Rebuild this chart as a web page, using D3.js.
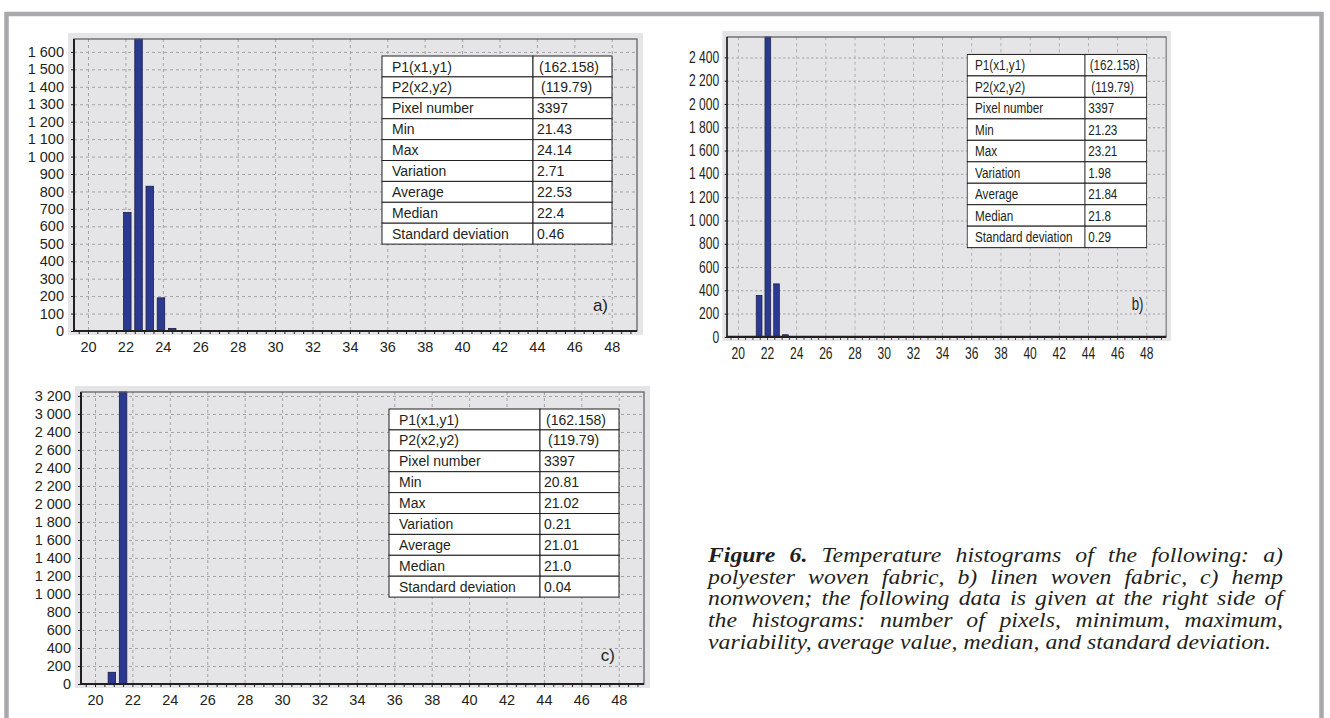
<!DOCTYPE html>
<html>
<head>
<meta charset="utf-8">
<script src="https://cdn.jsdelivr.net/npm/d3@7"></script>
<style>
    body { margin: 0; background: #fff; }
    svg { display: block; }
    .tick text { fill: #231f20; font-family: "Liberation Sans", Arial, sans-serif; }
</style>
</head>
<body>
<div id="svg-area"></div>
<script>
// ---- data ----
var xTicks = [20, 22, 24, 26, 28, 30, 32, 34, 36, 38, 40, 42, 44, 46, 48];

// panel a) polyester woven fabric
var aCenters = [22.1, 22.7, 23.3, 23.9, 24.5];
var aCounts = [680, 1690, 830, 190, 15];
var aYTicks = [0, 100, 200, 300, 400, 500, 600, 700, 800, 900, 1000, 1100, 1200, 1300, 1400, 1500, 1600];
var aStats = ["(162.158)", "(119.79)", "3397", "21.43", "24.14", "2.71", "22.53", "22.4", "0.46"];

// panel b) linen woven fabric
var bCenters = [21.45, 22.05, 22.65, 23.25];
var bCounts = [355, 2620, 455, 18];
var bYTicks = [0, 200, 400, 600, 800, 1000, 1200, 1400, 1600, 1800, 2000, 2200, 2400];
var bStats = ["(162.158)", "(119.79)", "3397", "21.23", "23.21", "1.98", "21.84", "21.8", "0.29"];

// panel c) hemp nonwoven
var cCenters = [20.9, 21.5];
var cCounts = [130, 3300];
var cYTicks = [0, 200, 400, 600, 800, 1000, 1200, 1400, 1600, 1800, 2000, 2200, 2400, 2600, 2800, 3000, 3200];
var cYLabels = ["0", "200", "400", "600", "800", "1 000", "1 200", "1 400", "1 600", "1 800",
    "2 000", "2 200", "2 400", "2 600", "2 400", "3 000", "3 200"];
var cStats = ["(162.158)", "(119.79)", "3397", "20.81", "21.02", "0.21", "21.01", "21.0", "0.04"];

var statLabels = ["P1(x1,y1)", "P2(x2,y2)", "Pixel number", "Min", "Max", "Variation", "Average", "Median", "Standard deviation"];

var captionLines = [
    "Figure 6. Temperature histograms of the following: a)",
    "polyester woven fabric, b) linen woven fabric, c) hemp",
    "nonwoven; the following data is given at the right side of",
    "the histograms: number of pixels, minimum, maximum,",
    "variability, average value, median, and standard deviation."
];

// ---- layout ----
var svgWidth = 1330;
var svgHeight = 718;
var plotW = 563;
var plotH = 292;
var xDomain = [19.25, 49.35];
var binWidth = 0.4;

var spaceFormat = d3.formatLocale({ decimal: ".", thousands: " ", grouping: [3], currency: ["", ""] }).format(",");

var svg = d3.select("#svg-area").append("svg")
    .attr("width", svgWidth)
    .attr("height", svgHeight);

// page frame
svg.append("path")
    .attr("d", "M6.5,718 V14 H1321.5 V718")
    .attr("fill", "none")
    .attr("stroke", "#a7a9ac")
    .attr("stroke-width", 4.5);

function drawPanel(opts) {
    var g = svg.append("g")
        .attr("transform", `translate(${opts.left}, ${opts.top}) scale(${opts.sx}, ${opts.sy})`);

    var x = d3.scaleLinear().domain(xDomain).range([0, plotW]);
    var y = d3.scaleLinear().domain([0, opts.yMax]).range([plotH, 0]).clamp(true);

    // grey background
    g.append("rect")
        .attr("x", -6).attr("y", -6)
        .attr("width", plotW + 12).attr("height", plotH + 10)
        .attr("fill", "#e5e5e7");

    // dashed grid
    g.append("g")
        .attr("class", "grid")
        .call(d3.axisLeft(y).tickValues(opts.yTicks).tickSize(-plotW).tickFormat(""));
    g.append("g")
        .attr("class", "grid")
        .call(d3.axisTop(x).tickValues(xTicks).tickSize(-plotH).tickFormat(""));
    g.selectAll(".grid .domain").remove();
    g.selectAll(".grid line")
        .attr("stroke", "#a3a3a5")
        .attr("stroke-dasharray", "3,3");

    // stats table
    var rowH = 20.9;
    var col1 = 151, col2 = 79;
    var table = g.append("g").attr("transform", "translate(308, 17)");
    var rows = table.selectAll("g.row")
        .data(statLabels)
        .enter()
        .append("g")
        .attr("class", "row")
        .attr("transform", (d, i) => `translate(0, ${i * rowH})`);
    rows.append("rect")
        .attr("width", col1).attr("height", rowH)
        .attr("fill", "#fff").attr("stroke", "#231f20").attr("stroke-width", 1);
    rows.append("rect")
        .attr("x", col1)
        .attr("width", col2).attr("height", rowH)
        .attr("fill", "#fff").attr("stroke", "#231f20").attr("stroke-width", 1);
    rows.append("text")
        .attr("x", 10).attr("y", 15.5)
        .attr("fill", "#231f20")
        .attr("font-family", "Liberation Sans, Arial, sans-serif")
        .attr("font-size", opts.tableFont + "px")
        .text(d => d);
    rows.append("text")
        .attr("x", (d, i) => col1 + (i === 0 ? 6 : i === 1 ? 8 : 4)).attr("y", 15.5)
        .attr("fill", "#231f20")
        .attr("font-family", "Liberation Sans, Arial, sans-serif")
        .attr("font-size", opts.tableFont + "px")
        .text((d, i) => opts.stats[i]);

    // bars
    g.selectAll("rect.bar")
        .data(opts.centers)
        .enter()
        .append("rect")
        .attr("class", "bar")
        .attr("x", d => x(d - binWidth / 2))
        .attr("width", d => x(d + binWidth / 2) - x(d - binWidth / 2))
        .attr("y", (d, i) => y(opts.counts[i]))
        .attr("height", (d, i) => plotH - y(opts.counts[i]))
        .attr("fill", "#2b3990")
        .attr("stroke", "#1b1d45")
        .attr("stroke-width", 0.8);

    // plot frame
    g.append("rect")
        .attr("width", plotW).attr("height", plotH)
        .attr("fill", "none")
        .attr("stroke", "#58595b")
        .attr("stroke-width", 1.2);
    g.append("path")
        .attr("d", `M0,0 V${plotH} H${plotW}`)
        .attr("fill", "none")
        .attr("stroke", "#231f20")
        .attr("stroke-width", 2);

    // minor ticks along the baseline
    g.append("g")
        .attr("class", "minor")
        .attr("transform", `translate(0, ${plotH})`)
        .call(d3.axisBottom(x).tickValues(d3.range(19.5, 49.3, 0.5)).tickSize(3).tickFormat(""));
    g.selectAll(".minor .domain").remove();
    g.selectAll(".minor line").attr("stroke", "#231f20");

    // axes labels
    var xAxis = g.append("g")
        .attr("transform", `translate(0, ${plotH})`)
        .call(d3.axisBottom(x).tickValues(xTicks).tickSize(0).tickPadding(11));
    xAxis.select(".domain").remove();
    xAxis.selectAll("text").style("font-size", opts.axisFont + "px");

    var yAxis = g.append("g")
        .call(d3.axisLeft(y).tickValues(opts.yTicks).tickSize(3).tickPadding(7)
            .tickFormat((d, i) => opts.yLabels ? opts.yLabels[i] : spaceFormat(d)));
    yAxis.select(".domain").remove();
    yAxis.selectAll("line").attr("stroke", "#231f20");
    yAxis.selectAll("text").style("font-size", opts.axisFont + "px");

    // panel letter
    g.append("text")
        .attr("x", 534).attr("y", opts.letterY)
        .attr("text-anchor", "end")
        .attr("fill", "#231f20")
        .attr("font-family", "Liberation Sans, Arial, sans-serif")
        .attr("font-size", "17px")
        .text(opts.letter);
}

drawPanel({ left: 74, top: 39, sx: 1, sy: 1, yMax: 1674, yTicks: aYTicks, axisFont: 14.5, tableFont: 14,
    centers: aCenters, counts: aCounts, stats: aStats, letter: "a)", letterY: 272 });
drawPanel({ left: 727, top: 37, sx: 0.78, sy: 1.027, yMax: 2575, yTicks: bYTicks, axisFont: 15.5, tableFont: 15,
    centers: bCenters, counts: bCounts, stats: bStats, letter: "b)", letterY: 266 });
drawPanel({ left: 81, top: 392, sx: 1, sy: 1, yMax: 3244, yTicks: cYTicks, yLabels: cYLabels, axisFont: 14.5, tableFont: 14,
    centers: cCenters, counts: cCounts, stats: cStats, letter: "c)", letterY: 269 });

// justified caption, stretched horizontally like the printed figure
var capLeft = 708, capRight = 1283, capTop = 562, capLead = 21.7, capSize = 20.5, capLastEnd = 1271;
var cap = svg.append("g");
var capLines = captionLines.map(function (line, li) {
    var words = line.split(" ");
    var t = cap.append("text")
        .attr("y", capTop + li * capLead)
        .attr("fill", "#231f20")
        .attr("font-family", "Liberation Serif, Times New Roman, serif")
        .attr("font-style", "italic")
        .attr("font-size", capSize + "px");
    var spans = words.map(function (w, i) {
        return t.append("tspan")
            .attr("font-weight", li === 0 && i < 2 ? "bold" : null)
            .text(w);
    });
    return { spans: spans, widths: spans.map(s => s.node().getComputedTextLength()) };
});
var space = capSize * 0.25;
var lastLine = capLines[capLines.length - 1];
var stretch = (capLastEnd - capLeft) / (d3.sum(lastLine.widths) + space * (lastLine.widths.length - 1));
var localW = (capRight - capLeft) / stretch;
cap.attr("transform", `translate(${capLeft}, 0) scale(${stretch}, 1)`);
capLines.forEach(function (l, li) {
    var last = li === capLines.length - 1;
    var gap = last ? space : (localW - d3.sum(l.widths)) / (l.widths.length - 1);
    var pos = 0;
    l.spans.forEach(function (s, i) {
        s.attr("x", pos);
        pos += l.widths[i] + gap;
    });
});
</script>
</body>
</html>
